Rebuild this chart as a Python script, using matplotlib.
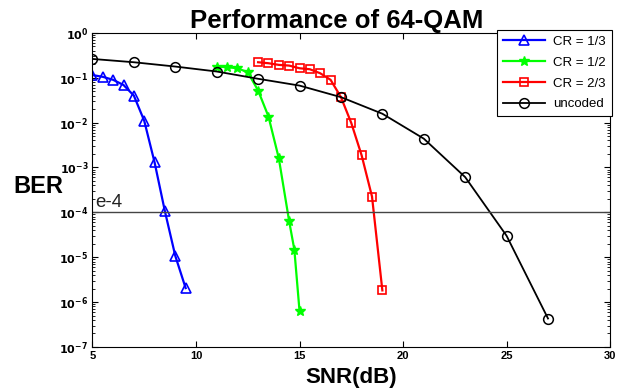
import matplotlib
matplotlib.use("Agg")
import matplotlib.pyplot as plt
import matplotlib.ticker as mticker
import numpy as np

plt.rcParams['font.family'] = ['Liberation Sans', 'DejaVu Sans']

# CR = 1/3
snr_13 = [5, 5.5, 6, 6.5, 7, 7.5, 8, 8.5, 9, 9.5]
ber_13 = [0.115, 0.105, 0.09, 0.069, 0.04, 0.011, 1.3e-3, 1.05e-4, 1.07e-5, 2.05e-6]

# CR = 1/2
snr_12 = [11, 11.5, 12, 12.5, 13, 13.5, 14, 14.5, 14.75, 15]
ber_12 = [0.178, 0.172, 0.163, 0.133, 0.052, 0.0137, 1.6e-3, 6.3e-5, 1.47e-5, 6.3e-7]

# CR = 2/3
snr_23 = [13, 13.5, 14, 14.5, 15, 15.5, 16, 16.5, 17, 17.5, 18, 18.5, 19]
ber_23 = [0.222, 0.211, 0.194, 0.187, 0.163, 0.155, 0.126, 0.09, 0.037, 0.0098,
          1.86e-3, 2.25e-4, 1.82e-6]

# uncoded
snr_unc = [5, 7, 9, 11, 13, 15, 17, 19, 21, 23, 25, 27]
ber_unc = [0.263, 0.222, 0.178, 0.138, 0.095, 0.067, 0.037, 0.0158, 4.4e-3,
           6.1e-4, 3.0e-5, 4.3e-7]

x_ticks = [5, 10, 15, 20, 25, 30]
y_exps = [-7, -6, -5, -4, -3, -2, -1, 0]

fig = plt.figure(figsize=(6.29, 3.92), dpi=100, facecolor='white')
ax = fig.add_axes([0.147, 0.115, 0.823, 0.801])

ax.semilogy(snr_13, ber_13, color='#0000ff', lw=1.6, marker='^', ms=7,
            mfc='none', mec='#0000ff', mew=1.2, label='CR = 1/3')
ax.semilogy(snr_12, ber_12, color='#00ff00', lw=1.6, marker='*', ms=7,
            mfc='#00ff00', mec='#00ff00', label='CR = 1/2')
ax.semilogy(snr_23, ber_23, color='#ff0000', lw=1.6, marker='s', ms=6,
            mfc='none', mec='#ff0000', mew=1.2, label='CR = 2/3')
ax.semilogy(snr_unc, ber_unc, color='black', lw=1.3, marker='o', ms=7,
            mfc='none', mec='black', mew=1.1, label='uncoded')

ax.axhline(1e-4, color='#444444', lw=1.0)
ax.text(5.15, 1.3e-4, 'e-4', fontsize=13.5, color='#222222')

ax.set_xlim(5, 30)
ax.set_ylim(1e-7, 1)
ax.set_xticks(x_ticks)
ax.set_xticklabels([str(t) for t in x_ticks], fontweight='bold')
ax.set_yticks([10.0 ** e for e in y_exps])
ax.set_yticklabels([r'$\mathbf{10^{%d}}$' % e for e in y_exps])
ax.yaxis.set_minor_locator(mticker.LogLocator(base=10, subs=np.arange(2, 10), numticks=20))
ax.yaxis.set_minor_formatter(mticker.NullFormatter())
ax.tick_params(which='both', direction='in', top=True, right=True)
ax.tick_params(which='major', length=4, labelsize=8, pad=3)
ax.tick_params(which='minor', length=2)

fig.text(0.535, 0.929, 'Performance of 64-QAM', fontsize=18.5, fontweight='bold',
         ha='center', va='baseline')
ax.set_xlabel('SNR(dB)', fontsize=16, fontweight='bold', labelpad=4)
ax.set_ylabel('BER', fontsize=17, fontweight='bold', rotation=0, ha='right',
              va='center')
ax.yaxis.set_label_coords(-0.056, 0.512)

leg = ax.legend(loc='upper right', bbox_to_anchor=(1.003, 1.01), fontsize=9.5,
                fancybox=False, framealpha=1, edgecolor='black', borderaxespad=0,
                handlelength=3.2, handletextpad=0.6, labelspacing=0.65,
                borderpad=0.45)
leg.get_frame().set_linewidth(0.8)

fig.savefig('out.png', dpi=100, facecolor='white')
